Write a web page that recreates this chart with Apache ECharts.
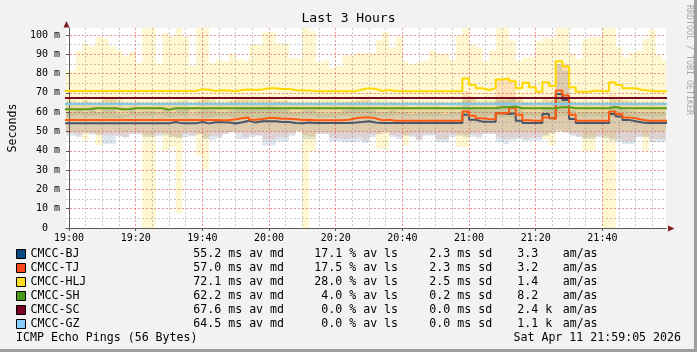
<!DOCTYPE html>
<html>
<head>
<meta charset="utf-8">
<script src="https://cdn.jsdelivr.net/npm/echarts@6/dist/echarts.min.js"></script>
<style>
html, body { margin: 0; padding: 0; background: #f2f2f2; }
#chart { width: 697px; height: 352px; }
</style>
</head>
<body>
<div id="chart"></div>
<script>
var chart = echarts.init(document.getElementById('chart'));
var mono = '"DejaVu Sans Mono", monospace';

// legend / statistics
var targets = ['CMCC-BJ', 'CMCC-TJ', 'CMCC-HLJ', 'CMCC-SH', 'CMCC-SC', 'CMCC-GZ'];
var boxColors = ['#0a4a80', '#ff4a1a', '#ffdd22', '#4a9a1a', '#7a0022', '#88ccff'];
var lineColors = ['#485668', '#ff5a10', '#ffd800', '#5a9a1a', '#7a0a1e', '#80c8f0'];
var avMedian = ['55.2', '57.0', '72.1', '62.2', '67.6', '64.5'];
var avLoss = ['17.1', '17.5', '28.0', ' 4.0', ' 0.0', ' 0.0'];
var stdDev = ['2.3', '2.3', '2.5', '0.2', '0.0', '0.0'];
var amAs = ['3.3', '3.2', '1.4', '8.2', '2.4 k', '1.1 k'];

// time frame, minutes after 19:00
var xMin = -55 / 60;        // 18:59:05
var xMax = 179 + 5 / 60;    // 21:59:05
var yMax = 103.6;
var firstColumn = -2;       // 2 minute columns, first one 18:58-19:00
var columnMinutes = 2;

// CMCC-HLJ smoke (ms)
var hljMax = [81.5,81.5,92,95.5,94,98.8,98,94,92,88.8,91.5,85.3,104,104,85.3,101,99,104,99,84,104,104,85.5,87.5,
  86.4,90.2,87.6,86.7,95,95,101.4,101.4,95.7,95.7,88,88,104,102,85.8,87,83.2,84,89.3,89.8,90.5,90.5,90.5,
  97.4,101.4,93.6,98.8,86.4,85,85.8,87,92.2,90.2,90.2,87,99.7,104,95.3,93.6,86.7,91.9,104,104,97,86.7,88.4,
  88.4,96.7,98.4,98.4,104,104,90.2,87.6,98,98.8,99.1,104,104,93.6,88.4,91,92,98,102.6,89.3,86.7];
var hljMin = [50,50,50,45.6,50,43,50,50,50,50,50,50,0,0,50,40.4,42,7.6,50,50,37.5,30.4,50,50,
  50,50,50,50,50,50,50,50,50,50,50,50,0,40,50,50,50,50,50,50,50,50,50,
  41,41,50,50,42.7,50,50,50,50,50,50,50,42,41.8,50,50,50,50,50,50,50,50,50,
  50,50,46,42.7,50,50,50,50,40,40,50,0,0,50,50,50,50,40,50,50,50];
// CMCC-TJ smoke
var tjMax = [64,64,65,66,64,65,66.8,66.8,65,63,64,64,63.5,63.5,64,65,64,65,65,63,66,67,65,64,
  64,66,67,66.5,65,67.5,67.5,67.5,66,66,65,65,64,64,65,64.5,64,64,65,65.5,66,66.5,65,
  64,64,65,64,64,63,63.5,64,64,63.5,63,63,64,71,67,65,65,65,77,77,77,67,64,
  64,64,67,66,85,85,65,64,64,64,64,64,69,67,66,65,64.5,64,64,64,64];
var tjMin = [49,49,48,50,49,48.5,48,48,47.5,47,49,49,48,48,48.5,49,47.5,47,49,48,48.5,47,47.5,47.5,
  49,50,49,47,48,48,46,46,47,47,49,50.5,48,47.5,49,49,47,46.5,46,46.5,47,45.5,48,
  49,50,48,47.5,48,48,46,48.5,48.5,46,46,48,48.5,48,48.5,48,49,49,47,46,46.5,47,46,
  47,47,48.5,50,51,50,48.5,47.5,47,47,47.5,47.5,46.5,46,45,45,47.5,47.5,46,46,46];
// CMCC-BJ smoke
var bjMax = [60,60,61,60,62,60,62.5,62,59.5,59,61,60,60.5,60.5,60,61,60,62,62,59,60.5,62,61,60,
  60,61,62,63,62,62.5,63,63,61.5,61.5,60,60,61,61,60,59.5,60,60,61,61.5,62,62,61,
  60,60,61,60,60,59,59.5,60,60,60,59,60,60,66,63,61,61,61,66,66,67,63,60,
  60,60,63,62,85,81.5,61,60,60,60,60,60,64,62,61,60.5,60,60,60,60,60];
var bjMin = [47.8,47.8,47,49,48.5,48,43.5,43.5,47.8,47,48.5,48.5,47,47,47.5,48,47,46.5,47,47.5,48.5,46,45.5,46.5,
  48.7,49.5,46,46,47,47.8,42.7,42.7,45,45,47.8,50,46,46,48.7,48.7,45,45,44.4,44.4,45,44,47,
  48.7,49.5,47,46,47.8,47,45.3,47.8,47.8,44.4,44.4,47,47.8,47,47.3,46.6,48.7,48.7,44.4,43.5,45.3,46,45,
  45.3,45.3,47.8,49,50,49.5,47.8,47,46,46,47,46.5,45.3,44.4,43.5,43.5,47,47,44.4,44.4,44.4];
// CMCC-SH smoke
var shMax = [66,66,65,65.5,65,65,66.5,66.5,66.5,65,65,65.5,65,65,65,65,65.5,66,66,65,65,66.5,66.5,65.5,
  65.5,66,66,66.5,66.5,66,66,65.5,65.5,65.5,65,65,65.5,65.5,65.5,66,66,66,65.5,65.5,66,66,65.5,
  66,65.5,65.5,65,65.5,65.5,65.5,65.5,65.5,65.5,65,65,65.5,67,66.5,66,66,66,67,67,67.5,66,65.5,
  65.5,65.5,66,66,67.5,67.5,66,65.5,65.5,65.5,65.5,65.5,67,66.5,66,66,65.5,65.5,65.5,65.5,65.5];
var shMin = [58,58,58.5,58,58,58,57,57,57,57.5,58,58,58,58,58.5,58,57.5,58,58,58.5,58,57,57.5,58,
  58,57.5,57.5,57,57.5,57,57,57.5,57.5,58,58,58,58,58,57.5,57.5,57.5,58,58,58,57.5,57.5,57.5,
  58,58,58,58.5,58,58,58,58,58,58,58,58,58,57.5,57.5,58,58,58,57.5,57.5,57,58,58,
  58,58,57.5,58,58,58,58,58,58,58,58,58,57.5,57.5,58,58,58,58,58,58,58];

// medians
var bjMedian = [54.2,54.2,54.2,54.2,54.2,54.2,54.2,54.2,54.2,54.2,54.2,54.2,54.2,54.2,54.2,54.2,54.9,54.2,54.2,54.2,54.9,54.2,54.8,54.8,
  54.6,54.1,54.8,55.6,54.6,55.3,55.3,55.3,54.9,54.9,54.4,54.2,54.6,54.4,54.4,54.4,54.4,54.4,54.4,54.6,54.9,55.3,54.6,
  54.4,54.4,54.4,54.4,54.4,54.4,54.4,54.4,54.4,54.4,54.4,54.4,54.4,58.7,56.1,55.1,55.1,55.1,59.4,59.1,59.4,55.6,54.4,
  54.4,54.4,59.1,56.8,69.4,66.3,56.5,54.4,54.4,54.4,54.4,54.4,59.1,57.7,56,55.3,54.7,54.4,54.4,54.4,54.4];
var tjMedian = [55.9,55.9,55.9,55.9,55.9,55.9,55.9,55.9,55.9,55.9,55.9,55.9,55.9,55.9,55.9,55.9,55.9,55.9,55.9,55.9,55.9,55.9,55.9,55.8,
  55.8,56.3,56.8,57.2,56.1,56.5,57,57,56.6,56.6,56.3,56,56.1,55.8,55.8,55.8,55.8,55.8,56.1,56.8,57.2,57.3,56.8,
  55.8,56.1,55.6,55.6,55.6,55.6,55.6,55.6,55.6,55.6,55.6,55.6,55.6,60.4,58.1,56.9,56.5,56.3,59.4,59.7,62.2,58.7,55.8,
  55.6,55.6,57.3,56.5,71.2,68.6,58.7,55.6,55.6,55.6,55.6,55.6,60.4,59.1,57.3,56.8,56.1,55.6,55.6,55.6,55.6];
var hljMedian = [71,71,71,71,71,71,71,71,71,71,71,71,71,71,71,71,71,71,71,71,71.9,71.6,71,71.3,
  71.2,70.8,71.5,71.8,71.5,71.8,72.4,72.4,72,72,71.5,71.2,71.2,70.9,70.9,70.9,70.8,70.8,70.9,70.9,71.8,72.4,72,
  71,71.5,71,70.8,70.8,70.8,70.8,70.8,70.8,70.8,70.8,70.8,70.8,77.5,74.1,72.4,71.5,72.4,76.9,77.5,76,72.5,75.3,
  72.9,70.6,75.5,73.6,86.4,83.6,72.9,70.6,70.6,71.2,70.8,70.8,75.5,74.1,72.4,72.4,71.5,71.2,70.8,70.8,70.8];
var shMedian = [61.5,61.5,61.5,61.5,62,62,62,62,61.5,61.5,62,62,62,62,62,61.3,62,62,62,62,62,62,62,62,
  62,62,62,62,62,62,62,62,62,62,62,62,62,62,62,62,62,62,62,62,62,62,62,
  62,62,62,62,62,62,62,62,62,62,62,62,62,62,62,62,62,62,62.5,62.5,62.9,62,62,
  62,62,62,62,62.5,62.5,62,62,62,62,62,62,62.7,62,62,62,62,62,62,62,62];
var scMedian = 67.3;
var gzMedian = 64.2;

function clock(v) {
  var m = Math.round(v) + 19 * 60;
  var h = Math.floor(m / 60), mm = m % 60;
  return h + ':' + (mm < 10 ? '0' : '') + mm;
}

function columns(values) {
  var out = [];
  for (var i = 0; i < values.length; i++) {
    out.push([firstColumn + i * columnMinutes, values[i]]);
  }
  out.push([firstColumn + values.length * columnMinutes, values[values.length - 1]]);
  return out;
}

// smoke band drawn as one stepped polygon between min and max
function smoke(name, lo, hi, fill) {
  return {
    name: name,
    type: 'custom',
    silent: true,
    z: 1,
    data: [[xMin, 0]],
    renderItem: function (params, api) {
      var top = [], bottom = [];
      for (var i = 0; i < lo.length; i++) {
        var t0 = Math.max(firstColumn + i * columnMinutes, xMin);
        var t1 = Math.min(firstColumn + (i + 1) * columnMinutes, xMax);
        if (t1 <= t0) continue;
        var h = Math.min(hi[i], yMax);
        top.push(api.coord([t0, h]), api.coord([t1, h]));
        bottom.push(api.coord([t0, lo[i]]), api.coord([t1, lo[i]]));
      }
      return {
        type: 'polygon',
        shape: { points: top.concat(bottom.reverse()) },
        style: { fill: fill }
      };
    }
  };
}

function median(i, data) {
  return {
    name: targets[i],
    type: 'line',
    step: 'end',
    symbol: 'none',
    z: 3,
    data: data,
    itemStyle: { color: boxColors[i] },
    lineStyle: { color: lineColors[i], width: 2 }
  };
}

var series = [
  smoke('hlj-smoke', hljMin, hljMax, 'rgba(255,215,0,0.19)'),
  smoke('tj-smoke', tjMin, tjMax, 'rgba(255,69,0,0.13)'),
  smoke('bj-smoke', bjMin, bjMax, 'rgba(0,64,128,0.13)'),
  smoke('sh-smoke', shMin, shMax, 'rgba(74,154,18,0.13)'),
  median(0, columns(bjMedian)),
  median(1, columns(tjMedian)),
  median(3, columns(shMedian)),
  median(5, [[firstColumn, gzMedian], [xMax + 1, gzMedian]]),
  median(4, [[firstColumn, scMedian], [xMax + 1, scMedian]]),
  median(2, columns(hljMedian))
];

var graphics = [
  { type: 'rect', shape: { x: 694, y: 0, width: 3, height: 352 }, style: { fill: '#9e9e9e' } },
  { type: 'rect', shape: { x: 0, y: 349, width: 697, height: 3 }, style: { fill: '#9e9e9e' } },
  { type: 'polygon', shape: { points: [[63.5, 27.5], [66.5, 21], [69.5, 27.5]] }, style: { fill: '#801f1f' } },
  { type: 'polygon', shape: { points: [[668, 225.5], [674.5, 228.5], [668, 231.5]] }, style: { fill: '#801f1f' } },
  { type: 'text', x: 689, y: 5, rotation: -Math.PI / 2,
    style: { text: 'RRDTOOL / TOBI OETIKER', font: '8.3px ' + mono, fill: '#a8a8a8',
      align: 'left', textAlign: 'left', verticalAlign: 'middle', textVerticalAlign: 'middle' } }
];

function addText(x, y, text, align) {
  graphics.push({
    type: 'text', x: x, y: y,
    style: { text: text, font: '11.6px ' + mono, fill: '#000',
      align: align || 'left', textAlign: align || 'left',
      verticalAlign: 'middle', textVerticalAlign: 'middle' }
  });
}

for (var i = 0; i < targets.length; i++) {
  var y = 254 + 14 * i;
  addText(193.3, y, avMedian[i] + ' ms av md');
  addText(314.3, y, avLoss[i] + ' % av ls');
  addText(429.3, y, stdDev[i] + ' ms sd');
  addText(517.3, y, amAs[i]);
  addText(562.7, y, 'am/as');
}
addText(16, 338, 'ICMP Echo Pings (56 Bytes)');
addText(681, 338, 'Sat Apr 11 21:59:05 2026', 'right');

var option = {
  animation: false,
  backgroundColor: '#f2f2f2',
  textStyle: { fontFamily: mono },
  title: {
    text: 'Last 3 Hours',
    left: 'center',
    top: 12,
    padding: 0,
    textStyle: { fontFamily: mono, fontSize: 13, fontWeight: 'normal', color: '#000' }
  },
  legend: {
    orient: 'vertical',
    left: 16,
    top: 247,
    padding: 0,
    itemGap: 0,
    itemWidth: 9,
    itemHeight: 9,
    icon: 'rect',
    selectedMode: false,
    itemStyle: { borderColor: '#000', borderWidth: 1 },
    textStyle: { fontFamily: mono, fontSize: 11.6, color: '#000', lineHeight: 14 },
    data: targets.map(function (n, i) {
      return { name: n, itemStyle: { color: boxColors[i], borderColor: '#000', borderWidth: 1 } };
    })
  },
  grid: {
    left: 66, right: 31, top: 28, bottom: 124,
    show: true, backgroundColor: '#fff', borderWidth: 0,
    containLabel: false, outerBoundsMode: 'none'
  },
  xAxis: {
    type: 'value',
    min: xMin,
    max: xMax,
    minInterval: 20,
    maxInterval: 20,
    z: 2,
    axisLine: { show: true, onZero: false, lineStyle: { color: '#5a5a5a', width: 1 } },
    axisTick: { show: true, length: 3, lineStyle: { color: '#5a5a5a' } },
    axisLabel: { fontFamily: mono, fontSize: 10, color: '#000', margin: 5,
      showMinLabel: false, showMaxLabel: false, formatter: clock },
    splitLine: { show: true, showMinLine: false, showMaxLine: false,
      lineStyle: { color: 'rgba(222,79,79,0.6)', type: [2, 2] } },
    minorTick: { show: false, splitNumber: 4 },
    minorSplitLine: { show: true, lineStyle: { color: 'rgba(143,143,143,0.5)', type: [2, 2] } }
  },
  yAxis: {
    type: 'value',
    min: 0,
    max: yMax,
    interval: 10,
    z: 2,
    name: 'Seconds',
    nameLocation: 'middle',
    nameRotate: 90,
    nameGap: 47,
    nameTextStyle: { fontFamily: mono, fontSize: 11.6, color: '#000' },
    axisLine: { show: true, lineStyle: { color: '#5a5a5a', width: 1 } },
    axisTick: { show: true, length: 3, lineStyle: { color: '#5a5a5a' } },
    axisLabel: { fontFamily: mono, fontSize: 10, color: '#000', margin: 6, showMaxLabel: false,
      formatter: function (v) { return v === 0 ? '0  ' : (v % 10 === 0 ? v + ' m' : ''); } },
    splitLine: { show: true, showMaxLine: false,
      lineStyle: { color: 'rgba(222,79,79,0.6)', type: [2, 2] } },
    minorTick: { show: false, splitNumber: 2 },
    minorSplitLine: { show: true, lineStyle: { color: 'rgba(143,143,143,0.5)', type: [2, 2] } }
  },
  graphic: graphics,
  series: series
};

chart.setOption(option);
</script>
</body>
</html>
